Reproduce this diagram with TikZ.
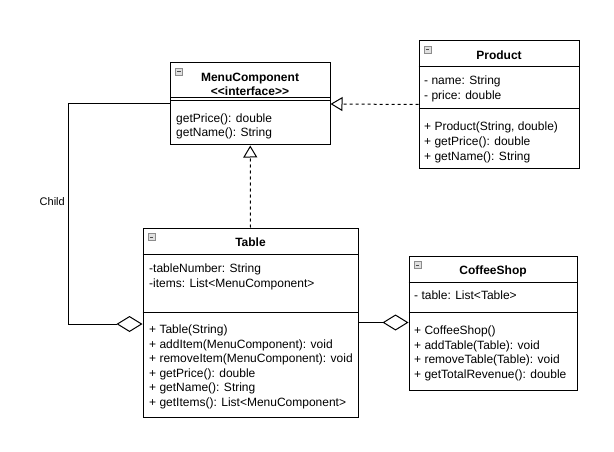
\documentclass[tikz,border=0pt]{standalone}
\usepackage{fontspec}
\setmainfont{Liberation Sans}
\usetikzlibrary{arrows.meta}

% small "collapse" square in the top left corner of a class box
\newcommand\collapsemark[1]{%
  \draw[draw=black!45, fill=black!12, line width=0.8pt]
    ([shift={(5.5,6)}]#1.north west) rectangle ++(7,7);
  \draw[black!70, line width=1pt]
    ([shift={(7.2,9.5)}]#1.north west) -- ++(3.6,0);
}

\begin{document}
\begin{tikzpicture}[x=1pt, y=-1pt,
  classbox/.style={draw=black, line width=1pt, fill=white, inner sep=0pt},
  divider/.style={draw=black, line width=1pt},
  member/.style={anchor=base west, inner sep=0pt, font=\fontsize{12}{14}\selectfont},
  title/.style={anchor=base, inner sep=0pt, font=\fontsize{12}{14}\selectfont\bfseries},
  realize/.style={line width=1pt, dash pattern=on 3pt off 3pt,
    -{Triangle[open, length=12pt, width=14pt, line width=1pt]}},
  aggr/.style={line width=1pt,
    -{Diamond[open, length=26pt, width=16pt, line width=1pt]}},
  lbl/.style={inner sep=0pt, font=\fontsize{11}{13}\selectfont},
]
\useasboundingbox (0,0) rectangle (614,452);

% ---------- MenuComponent ----------
\node[classbox, minimum width=159.5, minimum height=82] (menu) at (250.25,104) {};
\collapsemark{menu}
\node[title] (menu-t1) at (250,81.5) {MenuComponent};
\node[title] (menu-t2) at (250,95.5) {<{}<interface>{}>};
\draw[divider] (menu.west |- 0,98) -- (menu.east |- 0,98);
\draw[divider] (menu.west |- 0,101) -- (menu.east |- 0,101);
\foreach \t [count=\i] in {{getPrice(): double},{getName(): String}}
  \node[member] (menu-m\i) at (176,{122.5+(\i-1)*14.4}) {\t};

% ---------- Product ----------
\node[classbox, minimum width=160, minimum height=127] (product) at (499,104.5) {};
\collapsemark{product}
\node[title] (product-t) at (499,59.5) {Product};
\draw[divider] (product.west |- 0,67) -- (product.east |- 0,67);
\foreach \t [count=\i] in {{- name: String},{- price: double}}
  \node[member] (product-a\i) at (424,{84.5+(\i-1)*14.6}) {\t};
\draw[divider] (product.west |- 0,109) -- (product.east |- 0,109);
\foreach \t [count=\i] in {{+ Product(String, double)},{+ getPrice(): double},{+ getName(): String}}
  \node[member] (product-m\i) at (424,{131+(\i-1)*14.6}) {\t};

% ---------- Table ----------
\node[classbox, minimum width=215, minimum height=189] (table) at (250.5,322.5) {};
\collapsemark{table}
\node[title] (table-t) at (250.5,246) {Table};
\draw[divider] (table.west |- 0,254) -- (table.east |- 0,254);
\foreach \t [count=\i] in {{-tableNumber: String},{-items: List<MenuComponent>}}
  \node[member] (table-a\i) at (149,{272.5+(\i-1)*14.6}) {\t};
\draw[divider] (table.west |- 0,312) -- (table.east |- 0,312);
\foreach \t [count=\i] in {{+ Table(String)},{+ addItem(MenuComponent): void},
    {+ removeItem(MenuComponent): void},{+ getPrice(): double},
    {+ getName(): String},{+ getItems(): List<MenuComponent>}}
  \node[member] (table-m\i) at (149,{333.5+(\i-1)*14.6}) {\t};

% ---------- CoffeeShop ----------
\node[classbox, minimum width=168, minimum height=134] (coffee) at (493,323) {};
\collapsemark{coffee}
\node[title] (coffee-t) at (493,274.5) {CoffeeShop};
\draw[divider] (coffee.west |- 0,282) -- (coffee.east |- 0,282);
\node[member] (coffee-a1) at (414,299.5) {- table: List<Table>};
\draw[divider] (coffee.west |- 0,312) -- (coffee.east |- 0,312);
\foreach \t [count=\i] in {{+ CoffeeShop()},{+ addTable(Table): void},
    {+ removeTable(Table): void},{+ getTotalRevenue(): double}}
  \node[member] (coffee-m\i) at (414,{334.5+(\i-1)*14.6}) {\t};

% ---------- relations ----------
\draw[realize] (product.west) -- (menu.east);
\draw[realize] (table.north) -- (menu.south);
\draw[aggr] (table.east) -- (table.east -| coffee.west);
\draw[aggr] (menu.west) -- ++(-102,0) |- ([yshift=-1.5pt]table.west);
\node[lbl, anchor=east] (child) at (65,202) {Child};
\end{tikzpicture}
\end{document}
